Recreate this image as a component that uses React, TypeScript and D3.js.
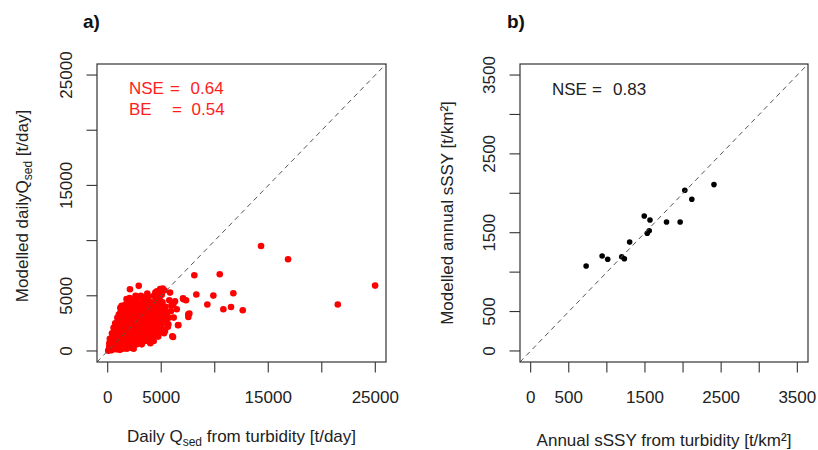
import React from "react";
import * as d3 from "d3";

// Panel a: daily Qsed [observed from turbidity, modelled] (t/day)
const dailyPairs: [number, number][] = [
  [50,30],[120,80],[180,200],[250,120],[300,350],[350,60],[400,500],[420,250],[480,700],[150,400],[280,600],[380,900],[450,150],[300,1000],[450,1300],
  [150,700],[200,1100],[400,1600],[550,2100],[700,2500],[900,3000],
  [520,1200],[560,400],[600,800],[650,1500],[680,250],[720,1100],[750,1900],[780,600],[820,300],[850,1400],[880,2200],[900,900],[950,1700],[980,500],[620,1700],[700,1300],[860,2500],[940,150],[990,2700],[540,900],[770,150],[910,1200],
  [1020,1000],[1050,2000],[1080,3100],[1100,600],[1130,1500],[1160,2400],[1200,3500],[1220,300],[1250,1800],[1280,2800],[1300,900],[1330,3800],[1350,1300],[1380,2100],[1400,200],[1420,3300],[1450,700],[1470,2600],[1490,1600],[1040,3300],[1180,3900],[1310,4100],[1150,100],[1260,1100],[1440,4000],
  [1520,3000],[1540,400],[1560,1900],[1580,3600],[1600,1200],[1620,2400],[1650,4200],[1680,800],[1700,2900],[1720,1600],[1750,3400],[1780,200],[1800,2200],[1820,3900],[1850,1000],[1870,2700],[1900,4300],[1920,1400],[1950,3200],[1980,600],[2000,2000],[1530,1000],[1690,3700],[1760,4700],[1890,500],[1960,4000],
  [2030,3600],[2060,1200],[2100,2600],[2130,4100],[2150,300],[2080,5590],[2200,1800],[2230,3100],[2260,800],[2280,4600],[2300,2300],[2330,1500],[2360,3800],[2380,500],[2400,2900],[2430,4400],[2450,1100],[2470,2000],[2490,3400],[2050,4800],[2220,4000],[2350,2700],[2420,200],
  [2520,2500],[2550,4000],[2580,900],[2600,3200],[2630,1700],[2650,4700],[2680,2200],[2700,600],[2730,3600],[2750,1300],[2780,2800],[2800,4300],[2830,1900],[2860,3300],[2880,800],[2900,2400],[2930,4900],[2950,1500],[2970,3800],[2900,5900],[2600,5000],[2700,2000],[2850,3000],
  [3030,2100],[3060,3500],[3090,1100],[3120,4200],[3150,2700],[3180,600],[3200,3100],[3230,1700],[3260,4600],[3290,2300],[3320,3900],[3350,1200],[3380,2900],[3400,4800],[3430,1900],[3460,3400],[3490,900],[3100,5000],[3300,1400],[3450,4300],[3240,3700],
  [3520,2600],[3550,4100],[3580,1500],[3600,3200],[3630,2200],[3660,4500],[3690,1000],[3720,2900],[3750,3700],[3780,1800],[3800,4900],[3830,2500],[3860,1300],[3890,3400],[3920,4200],[3950,2000],[3980,700],[3700,5200],[3900,2800],
  [4020,3000],[4050,1600],[4080,4400],[4110,2300],[4140,3600],[4170,1100],[4200,2700],[4230,4000],[4260,1900],[4290,3300],[4320,5000],[4350,2500],[4380,1400],[4410,3800],[4440,2100],[4470,4600],[4490,2900],[4300,900],
  [4520,2400],[4560,3500],[4600,1800],[4640,4200],[4680,2900],[4720,1300],[4760,3800],[4800,2300],[4840,4700],[4880,3100],[4920,1700],[4960,2600],[4990,4000],[4450,5300],[4700,5000],[4900,5600],[4600,5400],
  [5040,3400],[5080,2000],[5120,4400],[5140,5650],[5180,2800],[5220,3800],[5260,1600],[5300,3200],[5355,1812],[5400,4000],[5450,2600],[5477,2536],[5300,5500],[5050,5100],
  [5560,3500],[5620,2200],[5664,2418],[5700,3000],[5822,5290],[5750,4600],[5900,3600],[6037,1332],[6131,4230],[6168,3025],[6449,3777],[6570,2328],[5950,4100],[6290,4500],[7070,4680],[7530,3320],
  [600,1100],[800,1700],[1000,2300],[1200,2700],[1400,3000],[1600,3300],[1800,3500],[2000,3000],[2200,3400],[2400,3600],[2600,3700],[2800,3500],[3000,3300],[3200,3500],[3400,3600],[3600,3800],[3800,3300],[4000,3600],[4200,3200],[4400,3000],
  [700,500],[900,600],[1100,1200],[1300,1600],[1500,2000],[1700,2300],[1900,2600],[2100,2900],[2300,3300],[2500,1600],[2700,1100],[2900,1200],[3100,1800],[3300,2100],[3500,2200],[3700,2400],[3900,1500],[4100,1300],[4300,1800],[4500,2000],
  [1000,1600],[1200,2000],[1400,2400],[1600,2700],[1800,1300],[2000,1500],[2200,2100],[2400,1300],[2600,2600],[2800,2300],[3000,2800],[3200,2500],[3400,2000],[3600,2800],[3800,2200],[4000,2500],[4200,2100],[4400,2700],[4600,3200],[4800,2000],
  [1100,400],[1300,500],[1600,700],[1900,900],[2200,1000],[2500,700],[2800,1500],[3100,1400],[3400,1600],[3700,1200],[4000,1900],[4600,2600],[5000,2400],[5200,3000],[5400,3300],
  // outliers
  [8093,6857],[10467,6948],[14327,9511],[16850,8306],[24981,5924],[21495,4203],[8280,5109],[9869,5018],[11738,5226],[9308,4203],[10804,3777],[11523,3986],[12617,3687],[7037,4774],[7318,4592],[7626,3388],[7533,3080],[6598,2355],[6103,1268]
];

// Panel b: annual sSSY (t/km²)
const annualObserved = [728, 938, 1011, 1195, 1230, 1299, 1491, 1566, 1530, 1556, 1783, 1962, 2023, 2115, 2406];
const annualModelled = [1078, 1205, 1163, 1195, 1170, 1381, 1712, 1661, 1493, 1524, 1636, 1636, 2038, 1924, 2110];

const ticksA = [0, 5000, 10000, 15000, 20000, 25000];
const labelsA = [0, 5000, 15000, 25000];
const ticksB = [0, 500, 1000, 1500, 2000, 2500, 3000, 3500];
const labelsB = [0, 500, 1500, 2500, 3500];

const FONT = "'Liberation Sans', Arial, sans-serif";
const TXT = "#222";

type PanelProps = {
  left: number; right: number; top: number; bottom: number;
  domain: [number, number];
  ticks: number[]; labels: number[];
  points: [number, number][];
  color: string; r: number;
  letter: string; letterX: number;
  yLabelX: number; yTitleX: number; yTitleY: number;
  xTitleY: number;
  yTitle: React.ReactNode; xTitle: React.ReactNode;
  stats: React.ReactNode;
};

function Panel(p: PanelProps) {
  const x = d3.scaleLinear().domain(p.domain).range([p.left, p.right]);
  const y = d3.scaleLinear().domain(p.domain).range([p.bottom, p.top]);
  const tl = 10.5;
  return (
    <g fontFamily={FONT}>
      <text x={p.letterX} y={28} fontSize={19} fontWeight="bold" fill="#111">{p.letter}</text>
      {p.points.map((d, i) => (
        <circle key={i} cx={x(d[0])} cy={y(d[1])} r={p.r} fill={p.color} />
      ))}
      <line x1={x(p.domain[0])} y1={y(p.domain[0])} x2={x(p.domain[1])} y2={y(p.domain[1])}
        stroke="#555" strokeWidth={1} strokeDasharray="5,4" />
      <rect x={p.left} y={p.top} width={p.right - p.left} height={p.bottom - p.top}
        fill="none" stroke="#333" strokeWidth={1.2} />
      {p.ticks.map((t) => (
        <g key={"t" + t}>
          <line x1={x(t)} x2={x(t)} y1={p.bottom} y2={p.bottom + tl} stroke="#333" strokeWidth={1.1} />
          <line x1={p.left} x2={p.left - tl} y1={y(t)} y2={y(t)} stroke="#333" strokeWidth={1.1} />
        </g>
      ))}
      {p.labels.map((t) => (
        <g key={"l" + t} fontSize={17} fill={TXT}>
          <text x={x(t)} y={403} textAnchor="middle">{t}</text>
          <text transform={`translate(${p.yLabelX},${y(t)}) rotate(-90)`} textAnchor="middle">{t}</text>
        </g>
      ))}
      <text x={(p.left + p.right) / 2} y={p.xTitleY} textAnchor="middle" fontSize={17} fill={TXT}>{p.xTitle}</text>
      <text transform={`translate(${p.yTitleX},${p.yTitleY}) rotate(-90)`} textAnchor="middle" fontSize={17} fill={TXT}>{p.yTitle}</text>
      {p.stats}
    </g>
  );
}

export default function App() {
  const annualPairs: [number, number][] = annualObserved.map((v, i) => [v, annualModelled[i]]);
  return (
    <svg width={818} height={450} style={{ position: "absolute", left: 0, top: 0, background: "#fff" }}>
      <rect width={818} height={450} fill="#fff" />
      <Panel
        left={97} right={386} top={64} bottom={362}
        domain={[-1000, 26000]} ticks={ticksA} labels={labelsA}
        points={dailyPairs} color="#ff0000" r={3.3}
        letter="a)" letterX={83}
        yLabelX={71.5} yTitleX={28} yTitleY={206} xTitleY={442}
        xTitle={<>Daily Q<tspan fontSize={12} dy={4}>sed</tspan><tspan dy={-4}> from turbidity [t/day]</tspan></>}
        yTitle={<>Modelled dailyQ<tspan fontSize={12} dy={4}>sed</tspan><tspan dy={-4}> [t/day]</tspan></>}
        stats={
          <g fontSize={17} fill="#ff2020">
            <text x={129} y={94}>NSE</text>
            <text x={170} y={94}>=</text>
            <text x={190.5} y={94}>0.64</text>
            <text x={129} y={115}>BE</text>
            <text x={172} y={115}>=</text>
            <text x={191.5} y={115}>0.54</text>
          </g>
        }
      />
      <Panel
        left={520} right={808} top={64} bottom={362}
        domain={[-140, 3640]} ticks={ticksB} labels={labelsB}
        points={annualPairs} color="#000" r={2.8}
        letter="b)" letterX={507}
        yLabelX={495} yTitleX={453} yTitleY={213} xTitleY={446}
        xTitle={<>Annual sSSY from turbidity [t/km²]</>}
        yTitle={<>Modelled annual sSSY [t/km²]</>}
        stats={
          <g fontSize={17} fill={TXT}>
            <text x={552} y={95}>NSE</text>
            <text x={592} y={95}>=</text>
            <text x={613} y={95}>0.83</text>
          </g>
        }
      />
    </svg>
  );
}
